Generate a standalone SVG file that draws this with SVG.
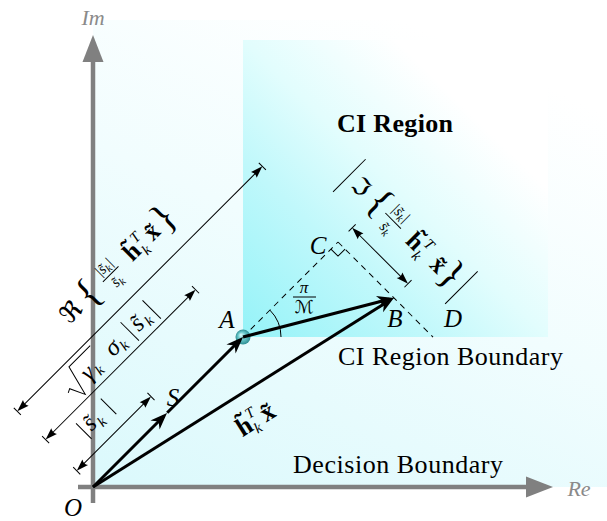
<svg xmlns="http://www.w3.org/2000/svg" width="607" height="521" viewBox="0 0 607 521">
<defs>
<style>
.mi{font-family:"Liberation Serif","DejaVu Serif",serif;font-style:italic}
.mb{font-family:"Liberation Serif","DejaVu Serif",serif;font-weight:bold}
.rm{font-family:"Liberation Serif","DejaVu Serif","DejaVu Sans",serif}
.dim{stroke:#000;stroke-width:1;fill:none}
.vec{stroke:#000;stroke-width:3;fill:none}
.dash{stroke:#000;stroke-width:1;stroke-dasharray:6 5;fill:none}
.axis{stroke:#808080;stroke-width:4.5;fill:none}
.axl{fill:#8a8a8a;font-size:22px}
.lbl{font-size:25px}
</style>
<linearGradient id="bg" x1="0.1" y1="1" x2="0.6" y2="0">
<stop offset="0" stop-color="#dcf9fc"/>
<stop offset="0.55" stop-color="#f1fdfe"/>
<stop offset="1" stop-color="#ffffff"/>
</linearGradient>
<linearGradient id="ci" x1="0" y1="1" x2="1" y2="0">
<stop offset="0" stop-color="#95f3f8"/>
<stop offset="0.3" stop-color="#c0f8fb"/>
<stop offset="0.5" stop-color="#e2fdfd"/>
<stop offset="0.75" stop-color="#ffffff"/>
</linearGradient>
<radialGradient id="ball" cx="0.5" cy="0.5" r="0.5" fx="0.35" fy="0.35">
<stop offset="0" stop-color="#e0ffff"/>
<stop offset="0.5" stop-color="#6ccacd"/>
<stop offset="1" stop-color="#2e8d92"/>
</radialGradient>
<marker id="ah" viewBox="-14 -8 20 16" markerWidth="20" markerHeight="16" refX="0" refY="0" orient="auto" markerUnits="userSpaceOnUse">
<path d="M5,0 L-12,-6.5 L-7,0 L-12,6.5 Z" fill="#000"/>
</marker>
<marker id="as" viewBox="-10 -5 14 10" markerWidth="14" markerHeight="10" refX="0" refY="0" orient="auto-start-reverse" markerUnits="userSpaceOnUse">
<path d="M3,0 L-9,-4 Q-6.5,0 -9,4 Z" fill="#000"/>
</marker>
</defs>

<g id="regions">
<rect x="93" y="20" width="514" height="467" fill="url(#bg)"/>
<rect x="243" y="40" width="305" height="297" fill="url(#ci)"/>
</g>

<g id="axes">
<line class="axis" x1="78" y1="487" x2="527" y2="487"/>
<polygon points="553,487 526,476.5 526,497.5" fill="#808080"/>
<line class="axis" x1="93" y1="503" x2="93" y2="61"/>
<polygon points="93,35 82.5,62 103.5,62" fill="#808080"/>
<text class="mi axl" x="579" y="496" text-anchor="middle">Re</text>
<text class="mi axl" x="93" y="25" text-anchor="middle">Im</text>
</g>

<g id="texts">
<text class="mb" x="337" y="132" font-size="26" textLength="116">CI Region</text>
<text class="rm" x="338" y="365" font-size="26" textLength="225">CI Region Boundary</text>
<text class="rm" x="293" y="473" font-size="26" textLength="210">Decision Boundary</text>
</g>

<g id="connectors">
<g transform="translate(93,487) rotate(-45)">
<line class="dash" x1="212" y1="0" x2="346.5" y2="0"/>
<path class="dim" d="M336.5,0 L336.5,10 L346.5,10"/>
<line class="dim" x1="3" y1="-23" x2="102" y2="-23" marker-start="url(#as)" marker-end="url(#as)"/>
<line class="dim" x1="0" y1="-28" x2="0" y2="-18"/>
<line class="dim" x1="105" y1="-28" x2="105" y2="-18"/>
<line class="dim" x1="3" y1="-67" x2="209" y2="-67" marker-start="url(#as)" marker-end="url(#as)"/>
<line class="dim" x1="0" y1="-72" x2="0" y2="-62"/>
<line class="dim" x1="212" y1="-72" x2="212" y2="-62"/>
<line class="dim" x1="3" y1="-107" x2="343.5" y2="-107" marker-start="url(#as)" marker-end="url(#as)"/>
<line class="dim" x1="0" y1="-112" x2="0" y2="-102"/>
<line class="dim" x1="346.5" y1="-112" x2="346.5" y2="-102"/>
</g>
<g transform="translate(338,242) rotate(45)">
<line class="dash" x1="0" y1="0" x2="134.4" y2="0"/>
<line class="dim" x1="3" y1="-20" x2="76" y2="-20" marker-start="url(#as)" marker-end="url(#as)"/>
<line class="dim" x1="0" y1="-25" x2="0" y2="-15"/>
<line class="dim" x1="79" y1="-25" x2="79" y2="-15"/>
</g>
<path class="dim" d="M281,337 A38,38 0 0 0 269.9,310.1"/>
<circle cx="243" cy="337" r="7.5" fill="url(#ball)"/>
<path class="vec" d="M93,487 L163.5,416.5" marker-end="url(#ah)"/>
<path class="vec" d="M167.2,412.8 L239.5,340.5" marker-end="url(#ah)"/>
<path class="vec" d="M243,337 L389.2,299.3" marker-end="url(#ah)"/>
<path class="vec" d="M93,487 L389.8,300.3" marker-end="url(#ah)"/>
</g>

<g id="O"><text class="mi lbl" x="73" y="516" text-anchor="middle">O</text></g>
<g id="S"><text class="mi lbl" x="173" y="406" text-anchor="middle">S</text></g>
<g id="A"><text class="mi lbl" x="227" y="328" text-anchor="middle">A</text></g>
<g id="B"><text class="mi lbl" x="395" y="327" text-anchor="middle">B</text></g>
<g id="C"><text class="mi lbl" x="318" y="254" text-anchor="middle">C</text></g>
<g id="D"><text class="mi lbl" x="453" y="327" text-anchor="middle">D</text></g>

<g id="angle-label">
<text class="mi" x="304" y="293" font-size="17" text-anchor="middle">π</text>
<line class="dim" x1="293" y1="297" x2="316" y2="297"/>
<text class="rm" x="304" y="313" font-size="18" text-anchor="middle">ℳ</text>
</g>

<g id="hx-label" transform="translate(258,417) rotate(-32)">
<text class="mb" x="-24" y="9" font-size="26">h̃</text>
<text class="mi" x="-9" y="-3" font-size="15">T</text>
<text class="mi" x="-9" y="14" font-size="15">k</text>
<text class="mb" x="4" y="9" font-size="26">x̃</text>
</g>

<g id="dim-labels" transform="translate(93,487) rotate(-45)">
<g id="label-sk">
<line class="dim" x1="33" y1="-35" x2="33" y2="-57"/>
<line class="dim" x1="68" y1="-35" x2="68" y2="-57"/>
<text class="mi" x="38" y="-40" font-size="24">s̃</text>
<text class="mi" x="49" y="-35" font-size="15">k</text>
</g>
<g id="label-sqrt">
<path class="dim" d="M49,-84 L53,-86 L60,-71 L68,-102 L98,-102" stroke-width="1.2"/>
<text class="mi" x="72" y="-77" font-size="25">γ</text>
<text class="mi" x="84" y="-73" font-size="15">k</text>
<text class="mi" x="106" y="-77" font-size="25">σ</text>
<text class="mi" x="119" y="-73" font-size="15">k</text>
<line class="dim" x1="136" y1="-71" x2="136" y2="-97"/>
<text class="mi" x="142" y="-77" font-size="25">s̃</text>
<text class="mi" x="154" y="-73" font-size="15">k</text>
<line class="dim" x1="167" y1="-71" x2="167" y2="-97"/>
</g>
<g id="label-re">
<text class="rm" x="98" y="-131" font-size="25">ℜ</text>
<text class="rm" x="124" y="-128" font-size="40">{</text>
<text class="mi" x="163" y="-143" font-size="15" text-anchor="middle">|s̃<tspan font-size="11" dy="3">k</tspan><tspan dy="-3">|</tspan></text>
<line class="dim" x1="152" y1="-138" x2="174" y2="-138"/>
<text class="mi" x="163" y="-124" font-size="15" text-anchor="middle">s̃<tspan font-size="11" dy="3">k</tspan></text>
<text class="mb" x="187" y="-131" font-size="25">h̃</text>
<text class="mi" x="202" y="-142" font-size="15">T</text>
<text class="mi" x="202" y="-125" font-size="15">k</text>
<text class="mb" x="216" y="-131" font-size="25">x̃</text>
<text class="rm" x="231" y="-128" font-size="40">}</text>
</g>
</g>

<g id="label-im" transform="translate(338,242) rotate(45)">
<line class="dim" x1="-39" y1="-32" x2="-39" y2="-78"/>
<line class="dim" x1="119.5" y1="-32" x2="119.5" y2="-78"/>
<text class="rm" x="-31" y="-47" font-size="24">ℑ</text>
<text class="rm" x="-8" y="-45" font-size="40">{</text>
<text class="mi" x="24" y="-60" font-size="15" text-anchor="middle">|s̃<tspan font-size="11" dy="3">k</tspan><tspan dy="-3">|</tspan></text>
<line class="dim" x1="13" y1="-54" x2="35" y2="-54"/>
<text class="mi" x="24" y="-39" font-size="15" text-anchor="middle">s̃<tspan font-size="11" dy="3">k</tspan></text>
<text class="mb" x="47" y="-47" font-size="25">h̃</text>
<text class="mi" x="62" y="-58" font-size="15">T</text>
<text class="mi" x="62" y="-41" font-size="15">k</text>
<text class="mb" x="81" y="-47" font-size="25">x̃</text>
<text class="rm" x="94" y="-45" font-size="40">}</text>
</g>
</svg>
